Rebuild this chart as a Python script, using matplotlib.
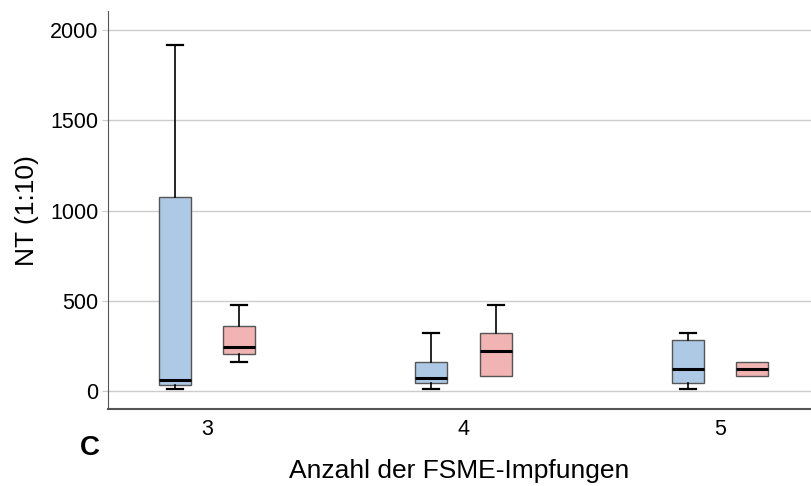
import matplotlib.pyplot as plt

plt.rcParams["font.family"] = ["Liberation Sans", "DejaVu Sans"]

categories = ["3", "4", "5"]

# box statistics: low whisker, Q1, median, Q3, high whisker
blue_whislo = [11, 11, 11]
blue_q1 = [33, 44, 44]
blue_med = [61, 72, 122]
blue_q3 = [1078, 161, 283]
blue_whishi = [1917, 322, 322]

red_whislo = [161, 83, 83]
red_q1 = [205, 83, 83]
red_med = [244, 222, 122]
red_q3 = [361, 322, 161]
red_whishi = [478, 480, 161]


def make_stats(whislo, q1, med, q3, whishi):
    return [
        {"whislo": a, "q1": b, "med": c, "q3": d, "whishi": e, "fliers": []}
        for a, b, c, d, e in zip(whislo, q1, med, q3, whishi)
    ]


fig = plt.figure(figsize=(8.11, 4.86), dpi=100)
ax = fig.add_axes([0.1332, 0.158, 0.8668, 0.819])

positions = list(range(len(categories)))
offset = 0.125
width = 0.125

for stats, shift, color in [
    (make_stats(blue_whislo, blue_q1, blue_med, blue_q3, blue_whishi), -offset, "#adc9e6"),
    (make_stats(red_whislo, red_q1, red_med, red_q3, red_whishi), offset, "#f2b3b3"),
]:
    parts = ax.bxp(
        stats,
        positions=[p + shift for p in positions],
        widths=width,
        capwidths=width / 2,
        patch_artist=True,
        showfliers=False,
        boxprops=dict(facecolor=color, edgecolor="#555555", linewidth=1.0),
        medianprops=dict(color="black", linewidth=2.2),
        whiskerprops=dict(color="black", linewidth=1.2),
        capprops=dict(color="black", linewidth=1.6),
        zorder=3,
    )
    # no cap where the whisker has zero length
    for i, s in enumerate(stats):
        if s["whislo"] == s["q1"]:
            parts["caps"][2 * i].set_visible(False)
        if s["whishi"] == s["q3"]:
            parts["caps"][2 * i + 1].set_visible(False)

ax.set_xticks(positions)
ax.set_xticklabels(categories)
ax.set_xlim(-0.386, 2.355)
ax.set_ylim(-100, 2105)
ax.set_yticks([0, 500, 1000, 1500, 2000])

ax.yaxis.grid(True, color="#cccccc", linewidth=1.0, zorder=0)
ax.set_axisbelow(True)
ax.spines["top"].set_visible(False)
ax.spines["right"].set_visible(False)
ax.spines["left"].set_color("#555555")
ax.spines["bottom"].set_color("#555555")
ax.spines["bottom"].set_linewidth(1.5)
ax.tick_params(axis="x", length=0, labelsize=15.5, pad=7)
ax.tick_params(axis="y", length=4, color="#cccccc", labelsize=15.5, pad=3)

ax.set_ylabel("NT (1:10)", fontsize=19, labelpad=8)
ax.set_xlabel("Anzahl der FSME-Impfungen", fontsize=19, labelpad=14)

fig.text(0.111, 0.078, "C", fontsize=20, fontweight="bold", ha="center", va="center")

fig.savefig("out.png", dpi=100)
